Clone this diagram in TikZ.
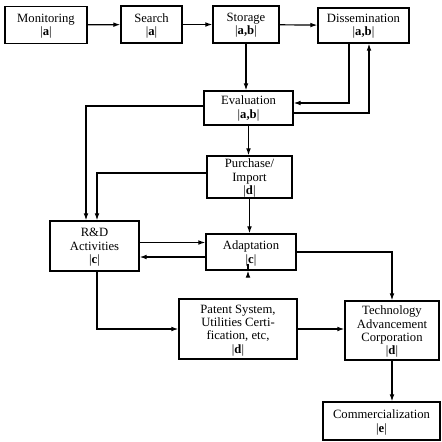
\documentclass[tikz,border=0pt]{standalone}
\usepackage{fontspec}
\setmainfont{Liberation Serif}
\usetikzlibrary{calc,arrows.meta}

\newcommand{\grp}[1]{\smash{|}\textbf{#1}\smash{|}}

\begin{document}
\begin{tikzpicture}[x=0.03cm,y=-0.03cm,
  >={Latex[length=6pt,width=4pt]},
  every path/.style={line width=1pt},
  box/.style={draw,line width=1pt,align=center,inner sep=0pt,
    font=\fontsize{10.8}{11.4}\selectfont}]
\useasboundingbox (0,0) rectangle (441,442);
% -- define nodes
\node[box,minimum width=2.46cm,minimum height=1.11cm] (mon) at (46,25) {Monitoring\\\grp{a}};
\node[box,minimum width=1.83cm,minimum height=1.11cm] (srch) at (151.5,24.5) {Search\\\grp{a}};
\node[box,minimum width=1.98cm,minimum height=1.11cm] (stor) at (246,24.5) {Storage\\\grp{a,b}};
\node[box,minimum width=2.73cm,minimum height=1.05cm] (diss) at (363.5,25.5) {Dissemination\\\grp{a,b}};
\node[box,minimum width=2.67cm,minimum height=1.02cm] (eval) at (248.5,108) {Evaluation\\\grp{a,b}};
\node[box,minimum width=2.55cm,minimum height=1.26cm] (purch) at (249.5,177) {Purchase/\\Import\\\grp{d}};
\node[box,minimum width=2.67cm,minimum height=1.50cm] (rd) at (94.5,246) {R\&D\\Activities\\\grp{c}};
\node[box,minimum width=2.70cm,minimum height=1.08cm] (adapt) at (251,252) {Adaptation\\\grp{c}};
\node[box,minimum width=3.54cm,minimum height=1.80cm] (pat) at (238,329) {Patent System,\\Utilities Certi-\\fication, etc,\\\grp{d}};
\node[box,minimum width=2.82cm,minimum height=1.77cm] (tech) at (392,330.5) {Technology\\Advancement\\Corporation\\\grp{d}};
\node[box,minimum width=3.51cm,minimum height=1.14cm] (comm) at (381.5,421) {Commercialization\\\grp{e}};
% -- top row
\draw [->] (mon) -- (srch);
\draw [->] (srch) -- (stor);
\draw [->] (stor) -- (diss);
\draw [->] (stor.south) -- (stor.south |- eval.north);
% -- loop with dissemination
\draw [->] ($(diss.south)+(-14.5,0)$) |- ($(eval.east)+(0,-5)$);
\draw [->] ($(eval.east)+(0,5)$) -| ($(diss.south)+(5.5,0)$);
% -- middle column
\draw [->] (eval.south) -- (eval.south |- purch.north);
\draw [->] (purch.south) -- (purch.south |- adapt.north);
\draw [->] ($(eval.west)+(0,-2)$) -| ($(rd.north)+(-8.5,0)$);
\draw [->] ($(purch.west)+(0,-4)$) -| ($(rd.north)+(2.5,0)$);
% -- R&D and adaptation
\coordinate (ra) at ($(rd.east)+(0,-3.5)$);
\coordinate (ar) at ($(adapt.west)+(0,5)$);
\draw [->] (ra) -- (ra -| adapt.west);
\draw [->] (ar) -- (ar -| rd.east);
\draw [->] ($(rd.south)+(2.5,0)$) |- (pat.west);
\draw [->] ($(adapt.south)+(-3,0)$) -- ($(adapt.south)+(-3,0)$ |- pat.north);
\draw [->] (adapt.east) -| (tech.north);
% -- bottom
\draw [->] (pat.east) -- (pat.east -| tech.west);
\draw [->] (tech.south) -- (tech.south |- comm.north);
\end{tikzpicture}
\end{document}
